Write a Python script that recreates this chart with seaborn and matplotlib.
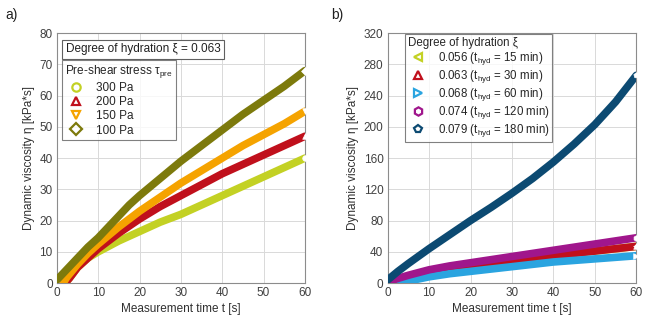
import numpy as np
import pandas as pd
import matplotlib
matplotlib.use('Agg')
import matplotlib.pyplot as plt
from matplotlib.lines import Line2D
from matplotlib.ticker import MultipleLocator
import seaborn as sns

# Donnees (temps en s, viscosite en kPa*s)
t_300 = [2, 3, 5, 7.5, 10, 15, 20, 25, 30, 35, 40, 45, 50, 55, 60]
eta_300 = [0, 1.5, 5, 8, 10, 13.5, 16.5, 19.5, 22, 25, 28, 31, 34, 37, 40]
t_200 = [2, 3, 5, 7.5, 10, 15, 20, 25, 30, 35, 40, 45, 50, 55, 60]
eta_200 = [0, 1.5, 5, 8, 11, 16, 20.5, 24.5, 28, 31.5, 35, 38, 41, 44, 47]
t_150 = [1.5, 2.5, 5, 7.5, 10, 15, 20, 25, 30, 35, 40, 45, 50, 55, 60]
eta_150 = [0, 2, 6, 9.5, 12.5, 18, 23, 27.5, 32, 36, 40, 44, 47.5, 51, 55]
t_100 = [0, 2.5, 5, 7.5, 10, 12.5, 15, 17.5, 20, 25, 30, 35, 40, 45, 50, 55, 60]
eta_100 = [1, 4.5, 8, 11.5, 14.5, 18, 21.5, 25, 28, 33.5, 39, 44, 49, 54, 58.5, 63, 68]

t_056 = [2, 5, 10, 15, 20, 30, 40, 50, 60]
eta_056 = [0, 4, 11, 16, 20, 28, 35, 41, 47]
t_063 = [2, 5, 10, 15, 20, 30, 40, 50, 60]
eta_063 = [0, 4, 11, 16, 20, 28, 35, 41, 47]
t_068 = [3, 5, 10, 15, 20, 25, 30, 35, 40, 45, 50, 55, 60]
eta_068 = [0, 2.5, 8, 12, 15, 18, 21, 24, 27, 29, 31, 33, 35]
t_074 = [0, 2.5, 5, 10, 15, 20, 25, 30, 35, 40, 45, 50, 55, 60]
eta_074 = [2, 6, 10, 17, 22, 26, 30, 34, 38, 42, 46, 50, 54, 58]
t_079 = [0, 2.5, 5, 10, 15, 20, 25, 30, 35, 40, 45, 50, 55, 60]
eta_079 = [4, 15, 25, 44, 62, 80, 97, 115, 134, 155, 178, 203, 232, 266]

labels_a = ['300 Pa', '200 Pa', '150 Pa', '100 Pa']
labels_b = [r'0.056 (t$_\mathrm{hyd}$ = 15 min)', r'0.063 (t$_\mathrm{hyd}$ = 30 min)',
            r'0.068 (t$_\mathrm{hyd}$ = 60 min)', r'0.074 (t$_\mathrm{hyd}$ = 120 min)',
            r'0.079 (t$_\mathrm{hyd}$ = 180 min)']

couleurs_a = ['#c3d124', '#c0101c', '#f5a300', '#7d7a0c']
marqueurs_a = ['o', '^', 'v', 'D']
couleurs_b = ['#c3d124', '#c0101c', '#2aa4e0', '#a0168c', '#0c4a72']
marqueurs_b = ['<', '^', '>', 'h', 'p']

sns.set_style('white')
plt.rcParams['font.family'] = ['Liberation Sans', 'DejaVu Sans']
plt.rcParams['mathtext.fontset'] = 'custom'
plt.rcParams['mathtext.rm'] = 'Liberation Sans'
plt.rcParams['mathtext.it'] = 'Liberation Sans'

fig = plt.figure(figsize=(6.46, 3.25), dpi=100)
ax1 = fig.add_axes([0.088, 0.129, 0.384, 0.769])
ax2 = fig.add_axes([0.600, 0.129, 0.385, 0.769])


def trace(ax, temps, series, couleurs, marqueurs, labels):
    for i in range(len(series)):
        df = pd.DataFrame({'t': temps[i], 'eta': series[i]})
        sns.lineplot(data=df, x='t', y='eta', ax=ax, color=couleurs[i], lw=5.5,
                     solid_capstyle='round', solid_joinstyle='round', legend=False,
                     zorder=3 + i)
        ax.scatter([temps[i][-1]], [series[i][-1]], marker=marqueurs[i], s=16,
                   facecolor='white', edgecolor='white', lw=0.5, zorder=10, clip_on=False)
    return [Line2D([], [], ls='none', marker=marqueurs[i], mfc='none', mec=couleurs[i],
                   mew=1.6, ms=6, label=labels[i]) for i in range(len(labels))]


def habillage(ax, ymax, ymaj, ymin):
    ax.set_xlim(0, 60)
    ax.set_ylim(0, ymax)
    ax.xaxis.set_major_locator(MultipleLocator(10))
    ax.xaxis.set_minor_locator(MultipleLocator(5))
    ax.yaxis.set_major_locator(MultipleLocator(ymaj))
    ax.yaxis.set_minor_locator(MultipleLocator(ymin))
    ax.grid(True, which='major', color='#d9d9d9', lw=0.7)
    ax.tick_params(which='both', direction='in', labelsize=8.5, colors='#404040',
                   width=0.6, pad=3)
    ax.tick_params(which='major', length=0)
    ax.tick_params(which='minor', length=3)
    for s in ax.spines.values():
        s.set_color('#8c8c8c')
        s.set_linewidth(0.8)
    ax.set_xlabel('Measurement time t [s]', fontsize=8.5, color='#303030', labelpad=3)
    ax.set_ylabel('Dynamic viscosity η [kPa*s]', fontsize=8.5, color='#303030', labelpad=3)


# Panneau a)
h_a = trace(ax1, [t_300, t_200, t_150, t_100], [eta_300, eta_200, eta_150, eta_100],
            couleurs_a, marqueurs_a, labels_a)
habillage(ax1, 80, 10, 5)
ax1.text(0.035, 0.935, 'Degree of hydration ξ = 0.063', transform=ax1.transAxes, fontsize=8.5,
         color='#202020', zorder=20, va='center',
         bbox=dict(boxstyle='square,pad=0.3', fc='white', ec='#606060', lw=0.8))
leg = ax1.legend(handles=h_a, title=r'Pre-shear stress $\tau_\mathrm{pre}$', loc='upper left',
                 bbox_to_anchor=(0.022, 0.892), fontsize=8.5, title_fontsize=8.5, frameon=True,
                 fancybox=False, edgecolor='#606060', borderpad=0.25, labelspacing=0.18,
                 handletextpad=0.8, handlelength=1.8, borderaxespad=0)
leg.get_frame().set_linewidth(0.8)
leg._legend_box.align = 'left'
leg.set_zorder(20)

# Panneau b)
h_b = trace(ax2, [t_056, t_063, t_068, t_074, t_079],
            [eta_056, eta_063, eta_068, eta_074, eta_079], couleurs_b, marqueurs_b, labels_b)
habillage(ax2, 320, 40, 20)
leg = ax2.legend(handles=h_b, title='Degree of hydration ξ', loc='upper left',
                 bbox_to_anchor=(0.07, 0.995), fontsize=8.3, title_fontsize=8.3, frameon=True,
                 fancybox=False, edgecolor='#606060', borderpad=0.25, labelspacing=0.08,
                 handletextpad=0.8, handlelength=1.8, borderaxespad=0)
leg.get_frame().set_linewidth(0.8)
leg._legend_box.align = 'left'
leg.set_zorder(20)

fig.text(0.008, 0.955, 'a)', fontsize=10, color='#202020', va='center')
fig.text(0.512, 0.955, 'b)', fontsize=10, color='#202020', va='center')

plt.savefig('out.png', dpi=100)
